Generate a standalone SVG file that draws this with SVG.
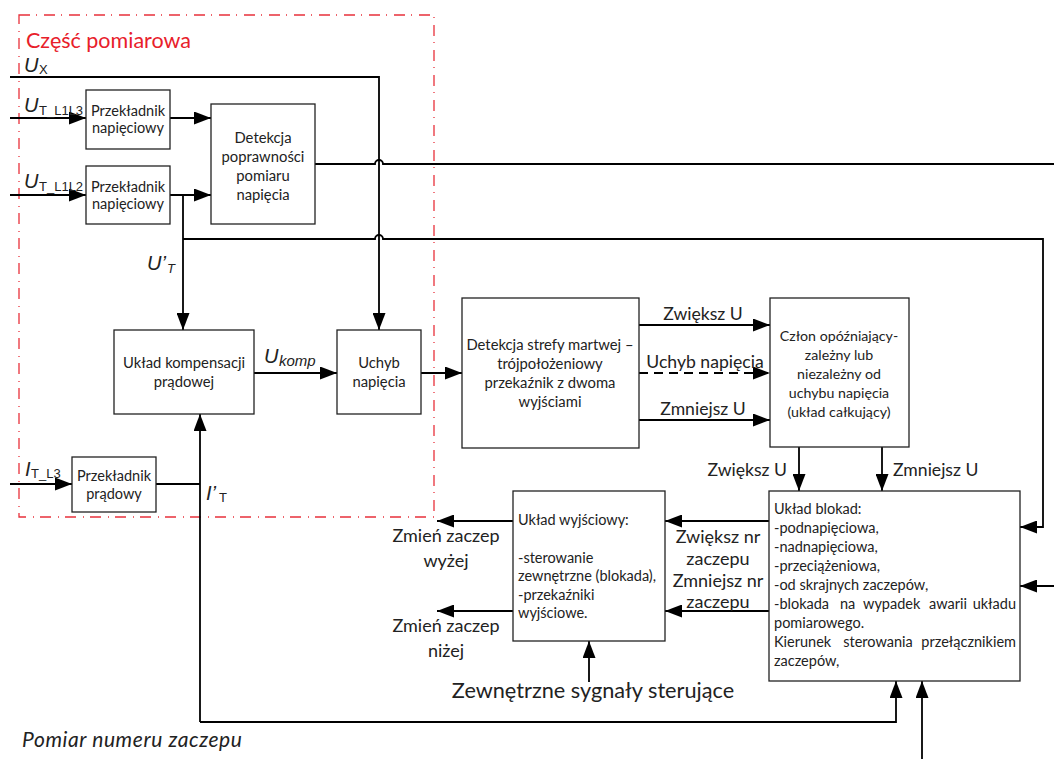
<svg xmlns="http://www.w3.org/2000/svg" width="1054" height="759" viewBox="0 0 1054 759">
<defs>
<marker id="a" markerUnits="userSpaceOnUse" markerWidth="17" markerHeight="13" refX="17" refY="6.5" orient="auto"><path d="M0,0 L17,6.5 L0,13 z" fill="#000"/></marker>
<style>
.box{fill:#fff;stroke:#222;stroke-width:1.3}
.c{fill:none;stroke:#000;stroke-width:1.8}
.ar{marker-end:url(#a)}
text{font-family:Lato,"Liberation Sans",sans-serif;fill:#222}
.t{font-size:14.8px;text-anchor:middle}
.s{font-size:14.5px}
.tl{font-size:14.5px}
.lb{font-size:17.6px}
.lb2{font-size:18px;text-anchor:middle}
.m{text-anchor:middle}
.i{font-style:italic}
.sym{font-family:"Liberation Sans",sans-serif;font-size:20px;font-style:italic}
.sub{font-family:"Liberation Sans",sans-serif;font-size:13px}
</style>
</defs>
<rect id="frame" x="19" y="15" width="415" height="502" fill="none" stroke="#e8313b" stroke-width="1.3" stroke-dasharray="11 6 1 7"/>
<text x="26" y="48" style="font-size:21.5px;fill:#e8202a">Część pomiarowa</text>

<g id="connectors">
<path class="c ar" d="M10,77 H379 V330"/>
<path class="c ar" d="M10,118 H86"/>
<path class="c ar" d="M170,118 H211"/>
<path class="c ar" d="M10,195 H86"/>
<path class="c ar" d="M170,195 H211"/>
<path class="c ar" d="M183,195 V330"/>
<path class="c ar" d="M183,239 H375 a4,4 0 0 1 8,0 H1043 V527 H1020"/>
<path class="c" d="M315,164 H375 a4,4 0 0 1 8,0 H1054"/>
<path class="c ar" d="M10,484 H72"/>
<path class="c" d="M156,484 H200"/>
<path class="c ar" d="M200,722 V414"/>
<path class="c ar" d="M200,722 H896 V681"/>
<path class="c ar" d="M254,373 H337"/>
<path class="c ar" d="M421,373 H462"/>
<path class="c ar" d="M639,325 H770"/>
<path class="c ar" d="M639,373 H770" stroke-dasharray="9 6"/>
<path class="c ar" d="M639,420 H770"/>
<path class="c ar" d="M799,447 V491"/>
<path class="c ar" d="M882,447 V491"/>
<path class="c ar" d="M769,521 H665"/>
<path class="c ar" d="M769,611 H665"/>
<path class="c ar" d="M513,521 H437"/>
<path class="c ar" d="M513,611 H437"/>
<path class="c ar" d="M589,682 V641"/>
<path class="c ar" d="M1054,586 H1020"/>
<path class="c ar" d="M922,759 V681"/>
</g>

<g id="labels">
<text x="24" y="72" class="sym">U</text><text x="39" y="74" class="sub">X</text>
<text x="24" y="112" class="sym">U</text><text x="39" y="115" class="sub">T_L1L3</text>
<text x="24" y="188" class="sym">U</text><text x="39" y="191" class="sub">T_L1L2</text>
<text x="147" y="270" class="sym">U’</text><text x="167" y="273" class="sub i">T</text>
<text x="264" y="363" class="sym">U</text><text x="279" y="366" class="sub i" style="font-size:15px">komp</text>
<text x="25" y="476" class="sym">I</text><text x="31" y="478" class="sub">T_L3</text>
<text x="206" y="500" class="sym">I’</text><text x="219" y="502" class="sub">T</text>
<text x="703" y="320" class="lb m">Zwiększ U</text>
<text x="705" y="368" class="lb m">Uchyb napięcia</text>
<text x="703" y="415" class="lb m">Zmniejsz U</text>
<text x="787" y="476" class="lb" text-anchor="end">Zwiększ U</text>
<text x="893" y="476" class="lb">Zmniejsz U</text>
<text x="446" y="542" class="lb2">Zmień zaczep</text>
<text x="446" y="567" class="lb2">wyżej</text>
<text x="446" y="632" class="lb2">Zmień zaczep</text>
<text x="446" y="657" class="lb2">niżej</text>
<text x="718" y="543" class="lb2">Zwiększ nr</text>
<text x="718" y="565" class="lb2">zaczepu</text>
<text x="718" y="587" class="lb2">Zmniejsz nr</text>
<text x="718" y="608" class="lb2">zaczepu</text>
<text x="593" y="698" class="m" style="font-size:21.7px">Zewnętrzne sygnały sterujące</text>
<text x="22" y="747" class="i" style="font-size:21px;letter-spacing:0.6px">Pomiar numeru zaczepu</text>
</g>

<g id="przekladnik1"><rect class="box" x="86" y="90" width="84" height="59"/>
<text class="t s" x="128" y="116">Przekładnik</text><text class="t s" x="128" y="133">napięciowy</text></g>
<g id="przekladnik2"><rect class="box" x="86" y="166" width="84" height="58"/>
<text class="t s" x="128" y="192">Przekładnik</text><text class="t s" x="128" y="209">napięciowy</text></g>
<g id="detekcja"><rect class="box" x="211" y="104" width="104" height="120"/>
<text class="t" x="263" y="143">Detekcja</text><text class="t" x="263" y="162">poprawności</text><text class="t" x="263" y="181">pomiaru</text><text class="t" x="263" y="200">napięcia</text></g>
<g id="kompensacja"><rect class="box" x="114" y="330" width="140" height="84"/>
<text class="t" x="184" y="368">Układ kompensacji</text><text class="t" x="184" y="387">prądowej</text></g>
<g id="uchyb"><rect class="box" x="337" y="330" width="84" height="84"/>
<text class="t" x="379" y="368">Uchyb</text><text class="t" x="379" y="387">napięcia</text></g>
<g id="przekladnikI"><rect class="box" x="72" y="457" width="84" height="55"/>
<text class="t s" x="114" y="481">Przekładnik</text><text class="t s" x="114" y="499">prądowy</text></g>
<g id="strefa"><rect class="box" x="462" y="298" width="177" height="150"/>
<text class="t" x="550" y="350">Detekcja strefy martwej –</text><text class="t" x="550" y="369">trójpołożeniowy</text><text class="t" x="550" y="388">przekaźnik z dwoma</text><text class="t" x="550" y="407">wyjściami</text></g>
<g id="czlon"><rect class="box" x="770" y="298" width="139" height="149"/>
<text class="t" x="839" y="341" style="font-size:14.2px">Człon opóźniający-</text><text class="t" x="839" y="360" style="font-size:14.2px">zależny lub</text><text class="t" x="839" y="379" style="font-size:14.2px">niezależny od</text><text class="t" x="839" y="398" style="font-size:14.2px">uchybu napięcia</text><text class="t" x="839" y="417" style="font-size:14.2px">(układ całkujący)</text></g>
<g id="wyjsciowy"><rect class="box" x="513" y="491" width="152" height="150"/>
<text class="tl" x="518" y="525">Układ wyjściowy:</text><text class="tl" x="518" y="563">-sterowanie</text><text class="tl" x="518" y="581">zewnętrzne (blokada),</text><text class="tl" x="518" y="600">-przekaźniki</text><text class="tl" x="518" y="618">wyjściowe.</text></g>
<g id="blokady"><rect class="box" x="769" y="491" width="251" height="190"/>
<text class="tl" x="774" y="514">Układ blokad:</text>
<text class="tl" x="774" y="533">-podnapięciowa,</text>
<text class="tl" x="774" y="552">-nadnapięciowa,</text>
<text class="tl" x="774" y="571">-przeciążeniowa,</text>
<text class="tl" x="774" y="590">-od skrajnych zaczepów,</text>
<text class="tl" y="609"><tspan x="774">-blokada</tspan><tspan x="840">na</tspan><tspan x="863">wypadek</tspan><tspan x="929">awarii</tspan><tspan x="1016" text-anchor="end">układu</tspan></text>
<text class="tl" x="774" y="628">pomiarowego.</text>
<text class="tl" y="647"><tspan x="774">Kierunek</tspan><tspan x="878" text-anchor="middle">sterowania</tspan><tspan x="1016" text-anchor="end">przełącznikiem</tspan></text>
<text class="tl" x="774" y="666">zaczepów,</text></g>
</svg>
